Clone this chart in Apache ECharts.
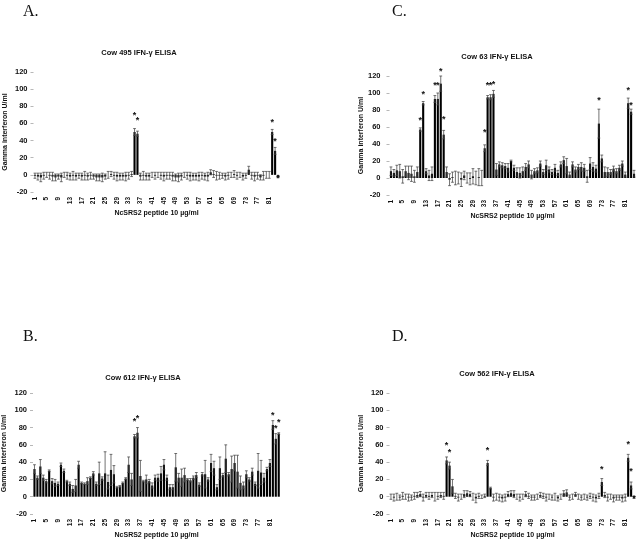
<!DOCTYPE html>
<html><head><meta charset="utf-8">
<script src="https://cdn.jsdelivr.net/npm/echarts@6/dist/echarts.min.js"></script>
<style>html,body{margin:0;padding:0;background:#fff}#c{width:640px;height:540px}</style>
</head><body><div id="c"></div>
<script>
// ---- data ----
const peptides = Array.from({length: 84}, (_, i) => String(i + 1));
const yTicks = [-20, 0, 20, 40, 60, 80, 100, 120];

const cow495Values = [-1,-2,-3,-1,0,-1,-2,-3,-2,-3, 0,-1,-2,-1,-2,-1,-2,-1,-2,-1,
  -2,-3,-3,-3,-2,0,1,-1,-2,-2, -2,-2,-1,1,50,48,-2,-1,-2,-2,
  0,-1,0,-1,-2,-1,-1,-2,-3,-3, -2,0,-1,-2,-2,-2,-2,-1,-2,-2,
  3,1,-1,-1,-1,-2,-1,0,1,-1, 0,-2,-1,6,-1,-2,-1,-3,-1,0, 0,50,28,-2];
const cow495Errors = [3,4,5,4,3,4,5,4,3,5, 3,4,4,5,4,3,4,5,4,4,
  3,4,4,5,3,4,3,4,5,4, 4,5,4,3,4,3,4,5,4,4,
  3,4,3,4,5,4,4,5,4,5, 4,3,4,5,4,4,5,4,4,5,
  3,4,5,4,3,4,4,3,4,4, 3,4,3,4,4,5,4,3,5,4, 4,3,4,1];
const cow495Stars = [[35,71],[36,66],[82,63],[83,41],[84,-2]];

const cow63Values = [8,6,9,8,2,8,6,5,2,7, 57,88,8,3,5,93,93,111,51,7,
  -2,1,0,0,-2,3,0,-1,2,0, 1,0,35,95,95,99,10,16,15,14,
  12,20,12,7,6,8,13,16,4,8, 9,17,7,15,10,7,12,6,16,21,
  14,4,16,10,13,13,12,2,17,13, 11,64,23,7,7,7,11,8,12,17, 4,88,78,5];
const cow63Errors = [5,4,6,8,8,6,8,9,7,6, 2,2,3,6,8,4,7,9,5,6,
  7,6,8,7,8,5,6,7,9,8, 10,9,4,2,3,4,7,3,3,3,
  5,1,3,5,6,5,4,4,5,3, 3,3,3,6,3,3,4,3,3,4,
  9,3,3,3,3,5,4,7,7,5, 4,17,4,6,5,3,3,3,3,3, 3,6,3,4];
const cow63Stars = [[11,70],[12,100],[16,111],[17,111],[18,128],[19,71],[33,56],
  [34,111],[35,111],[36,112],[72,93],[82,105],[83,88]];

const cow612Values = [32,22,35,22,18,30,18,16,15,37, 30,18,15,9,13,37,16,15,18,22,
  27,15,27,21,27,17,31,26,11,12, 16,21,37,20,70,74,24,18,20,18,
  13,22,22,27,37,22,11,11,34,22, 22,25,20,19,22,25,14,26,26,20,
  39,33,11,33,25,44,26,32,39,29, 16,13,26,20,29,15,30,28,22,32, 39,83,67,73];
const cow612Errors = [5,2,8,3,2,1,3,4,2,2, 2,1,2,4,7,4,1,1,4,1,
  2,2,13,2,25,8,18,10,1,1, 1,1,9,7,2,6,18,1,5,2,
  3,3,4,8,6,3,3,3,16,5, 10,8,1,2,2,3,2,2,16,2,
  10,8,3,13,2,16,2,15,9,19, 8,4,4,2,4,2,20,14,5,2, 4,5,6,1];
const cow612Stars = [[35,89],[36,93],[82,96],[83,81],[84,88]];

const cow562Values = [0,-1,0,-1,1,0,-1,-1,1,2, 3,-1,2,1,2,0,1,2,1,42,
  36,12,1,-1,0,3,4,3,0,-2, 1,0,1,39,10,-1,0,-1,-2,-1,
  3,4,3,0,-1,0,3,1,-1,-1, 0,2,1,-1,0,-1,0,-2,0,4,
  5,-1,0,3,0,-1,0,-1,1,-1, -2,1,17,2,-1,0,-2,-1,-1,-2, -1,45,13,-1];
const cow562Errors = [3,4,4,3,4,3,4,3,4,3, 3,4,3,4,3,5,4,3,4,4,
  4,8,3,4,3,4,3,3,4,5, 3,2,2,3,1,4,4,4,4,4,
  3,3,4,3,4,3,3,3,3,3, 3,3,3,4,3,3,4,3,3,3,
  3,3,3,2,3,3,3,3,3,4, 4,3,4,3,4,3,4,3,3,4, 4,4,4,1];
const cow562Stars = [[20,61],[21,53],[34,56],[73,34],[82,63],[83,31],[84,0]];

// ---- layout ----
const panels = [
  {letter:'A.', title:'Cow 495 IFN-γ ELISA', values:cow495Values, errors:cow495Errors, stars:cow495Stars,
   grid:{left:33.5, top:72, width:246, height:120}, lx:23, ly:12, tx:139, ty:53, lm:6},
  {letter:'C.', title:'Cow 63 IFN-γ ELISA', values:cow63Values, errors:cow63Errors, stars:cow63Stars,
   grid:{left:389.5, top:76, width:246, height:119}, lx:392, ly:12, tx:497, ty:57, lm:9},
  {letter:'B.', title:'Cow 612 IFN-γ ELISA', values:cow612Values, errors:cow612Errors, stars:cow612Stars,
   grid:{left:32.2, top:393, width:248, height:123}, lx:23, ly:337, tx:143, ty:378, lm:6},
  {letter:'D.', title:'Cow 562 IFN-γ ELISA', values:cow562Values, errors:cow562Errors, stars:cow562Stars,
   grid:{left:389.5, top:393, width:246, height:121}, lx:392, ly:337, tx:497, ty:374, lm:6}
];

const SANS = '"Liberation Sans", Arial, sans-serif';
const grids = [], xAxes = [], yAxes = [], series = [], graphics = [];

function errRender(params, api) {
  const x = api.value(0), v = api.value(1), e = api.value(2);
  const t = api.coord([x, v + e]), b = api.coord([x, v - e]);
  const w = 1.4, st = {stroke: '#444', lineWidth: 0.75};
  return {type: 'group', children: [
    {type: 'line', shape: {x1: t[0], y1: t[1], x2: b[0], y2: b[1]}, style: st},
    {type: 'line', shape: {x1: t[0] - w, y1: t[1], x2: t[0] + w, y2: t[1]}, style: st},
    {type: 'line', shape: {x1: b[0] - w, y1: b[1], x2: b[0] + w, y2: b[1]}, style: st}
  ]};
}
function starRender(params, api) {
  const p = api.coord([api.value(0), api.value(1)]);
  return {type: 'text', x: p[0], y: p[1] + 2,
    style: {text: '*', fontSize: 9, fontWeight: 'bold', fontFamily: SANS, fill: '#111',
      align: 'center', verticalAlign: 'middle', textAlign: 'center', textVerticalAlign: 'middle'}};
}

panels.forEach((p, i) => {
  grids.push(p.grid);
  xAxes.push({type: 'category', gridIndex: i, data: peptides,
    axisLine: {show: false}, axisTick: {show: false},
    axisLabel: {interval: 3, rotate: 90, fontSize: 6.5, fontWeight: 'bold', fontFamily: SANS, color: '#111', margin: 5},
    name: 'NcSRS2 peptide 10 µg/ml', nameLocation: 'middle', nameGap: 18,
    nameTextStyle: {fontSize: 7, fontWeight: 'bold', fontFamily: SANS, color: '#111'}});
  yAxes.push({type: 'value', gridIndex: i, min: -20, max: 120, interval: 20,
    splitLine: {show: false}, axisLine: {show: false},
    axisTick: {show: true, length: 3, lineStyle: {color: '#999', width: 0.7}},
    axisLabel: {fontSize: 7.5, fontWeight: 'bold', fontFamily: SANS, color: '#111', margin: p.lm,
      formatter: v => yTicks.includes(v) ? String(v) : ''},
    name: 'Gamma interferon U/ml', nameLocation: 'middle', nameGap: 25, nameRotate: 90,
    nameTextStyle: {fontSize: 7, fontWeight: 'bold', fontFamily: SANS, color: '#111'}});
  series.push({type: 'bar', xAxisIndex: i, yAxisIndex: i, data: p.values,
    barWidth: '72%', itemStyle: {color: '#000'}, silent: true, animation: false});
  series.push({type: 'custom', xAxisIndex: i, yAxisIndex: i, renderItem: errRender,
    data: p.values.map((v, k) => [k, v, p.errors[k]]), silent: true, animation: false, z: 3});
  series.push({type: 'custom', xAxisIndex: i, yAxisIndex: i, renderItem: starRender,
    data: p.stars.map(s => [s[0] - 1, s[1]]), silent: true, animation: false, z: 4});
  graphics.push({type: 'text', x: p.lx, y: p.ly,
    style: {text: p.letter, fontSize: 16, fontFamily: '"Liberation Serif", "Times New Roman", serif',
      fill: '#111', align: 'left', verticalAlign: 'middle', textAlign: 'left', textVerticalAlign: 'middle'}});
  graphics.push({type: 'text', x: p.tx, y: p.ty,
    style: {text: p.title, fontSize: 7.5, fontWeight: 'bold', fontFamily: SANS, fill: '#111',
      align: 'center', verticalAlign: 'middle', textAlign: 'center', textVerticalAlign: 'middle'}});
});

const chart = echarts.init(document.getElementById('c'), null, {renderer: 'canvas'});
chart.setOption({animation: false, backgroundColor: '#fff', grid: grids, xAxis: xAxes, yAxis: yAxes,
  series: series, graphic: graphics});
</script></body></html>
